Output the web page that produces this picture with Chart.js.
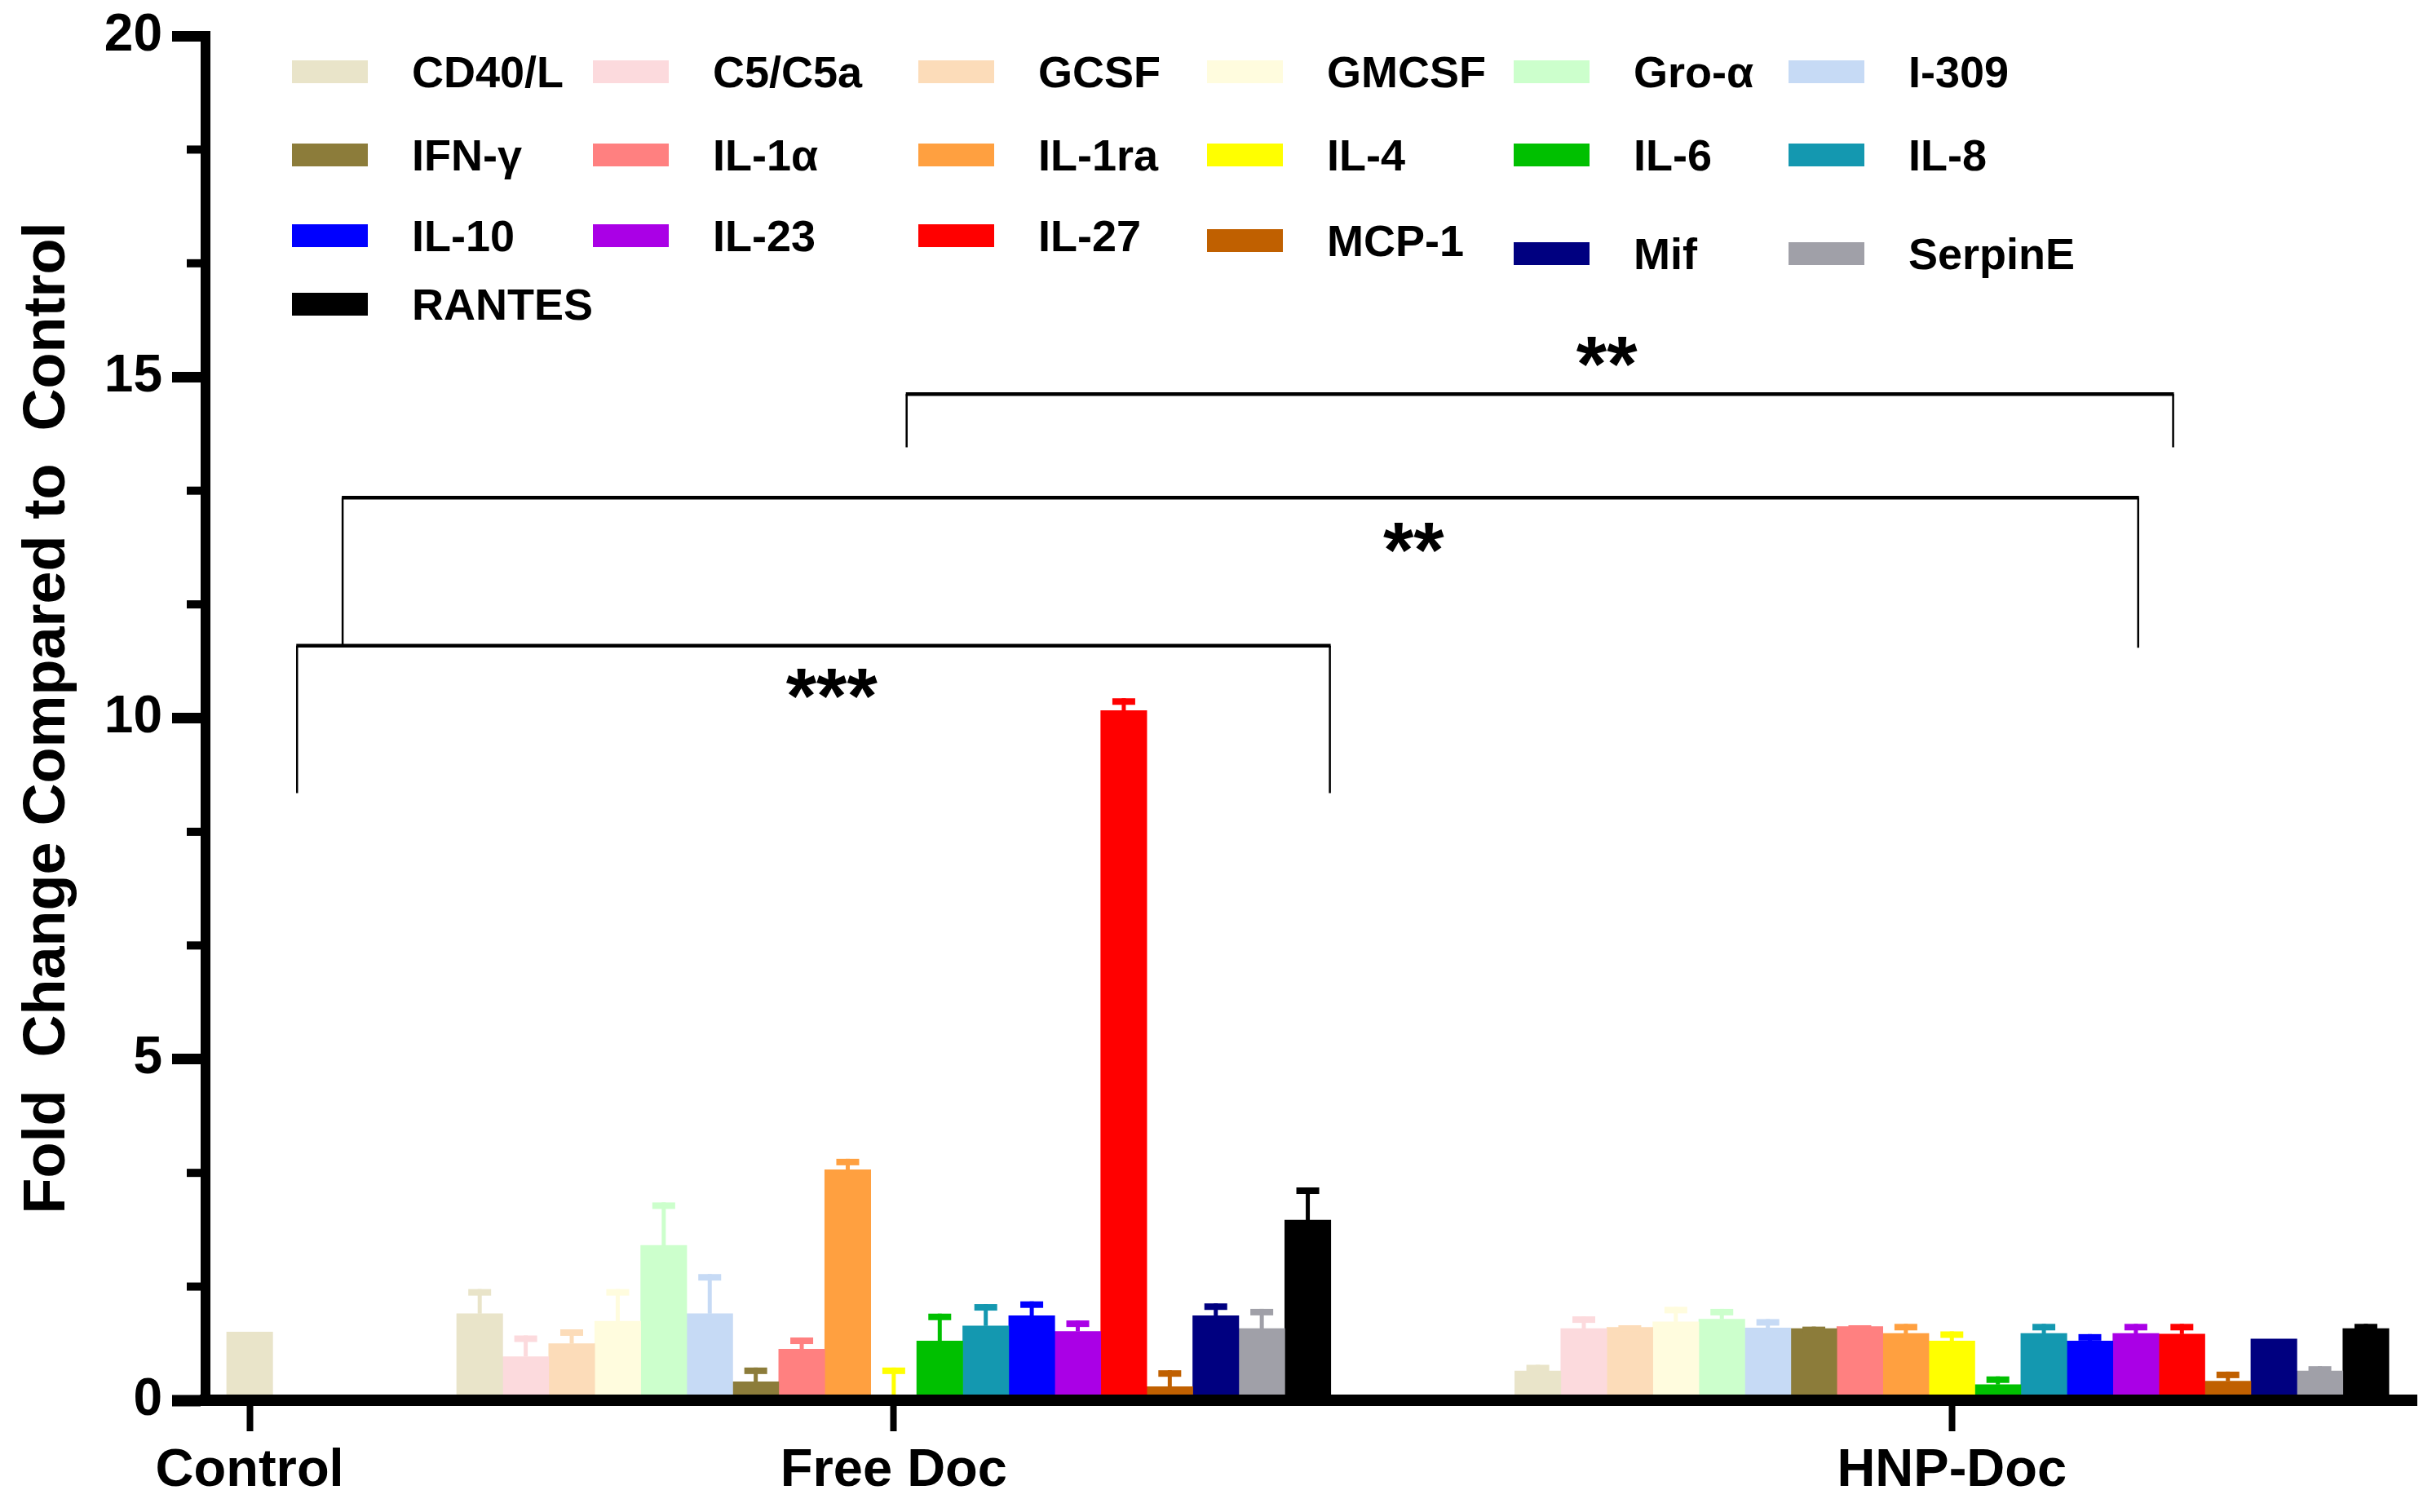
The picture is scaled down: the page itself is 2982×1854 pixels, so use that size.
<!DOCTYPE html>
<html>
<head>
<meta charset="utf-8">
<script src="https://cdn.jsdelivr.net/npm/chart.js@4.4.1/dist/chart.umd.min.js"></script>
<style>
    html, body { margin: 0; padding: 0; background: #fff; }
    #wrap { position: relative; width: 2982px; height: 1854px; }
    #chart { display: block; }
    .item { position: absolute; display: flex; align-items: center; height: 60px;
            font: bold 54px "Liberation Sans", Arial, sans-serif; color: #000; white-space: nowrap; }
    .box { width: 93px; height: 28px; margin-right: 54px; }
</style>
</head>
<body>
<div id="wrap"><canvas id="chart"></canvas><div id="legend"></div></div>
<script>
let groupLabels = ['Control', 'Free Doc', 'HNP-Doc'];
let cytokines = ['CD40/L', 'C5/C5a', 'GCSF', 'GMCSF', 'Gro-α', 'I-309', 'IFN-γ', 'IL-1α', 'IL-1ra', 'IL-4',
    'IL-6', 'IL-8', 'IL-10', 'IL-23', 'IL-27', 'MCP-1', 'Mif', 'SerpinE', 'RANTES'];
let colors = ['#e9e4c9', '#fcdadd', '#fcdcb9', '#fffcde', '#ccffcc', '#c6daf5', '#8c7c3a', '#ff8080', '#ffa040', '#ffff00',
    '#00c000', '#1498b0', '#0000ff', '#aa00e6', '#ff0000', '#c06000', '#000080', '#a0a0a8', '#000000'];

// only CD40/L is plotted for the control group
let controlValue = 1.0;
let freeDocMeans = [1.27, 0.64, 0.83, 1.16, 2.27, 1.27, 0.27, 0.75, 3.38, 0.02,
    0.87, 1.09, 1.24, 1.01, 10.11, 0.20, 1.24, 1.05, 2.64];
let freeDocErrors = [0.36, 0.31, 0.21, 0.47, 0.63, 0.58, 0.21, 0.17, 0.16, 0.46,
    0.40, 0.32, 0.21, 0.16, 0.18, 0.24, 0.18, 0.29, 0.48];
let hnpDocMeans = [0.43, 1.05, 1.07, 1.15, 1.19, 1.06, 1.05, 1.08, 0.98, 0.87,
    0.23, 0.98, 0.87, 0.98, 0.97, 0.28, 0.90, 0.43, 1.05];
let hnpDocErrors = [0.09, 0.18, 0.03, 0.22, 0.15, 0.13, 0.03, 0.02, 0.14, 0.14,
    0.12, 0.14, 0.10, 0.14, 0.15, 0.14, 0, 0.07, 0.07];

let yMax = 20, yMajorStep = 5, yMinorStep = 5 / 3;

// significance brackets, x in bar slots, y in fold change
let brackets = [
    { from: 1.03, to: 23.48, level: 11.06, leftEnd: 8.9, rightEnd: 8.9, stars: '***', starX: 12.65, starY: 10.44 },
    { from: 2.02, to: 41.05, level: 13.23, leftEnd: 11.06, rightEnd: 11.03, stars: '**', starX: 25.3, starY: 12.58 },
    { from: 14.28, to: 41.81, level: 14.75, leftEnd: 13.97, rightEnd: 13.97, stars: '**', starX: 29.5, starY: 15.3 }
];

// bar slots: one slot per bar, a gap of a few slots between groups
let groupGap = 4;
let controlSlot = 0;
let freeStart = controlSlot + 1 + groupGap;
let hnpStart = freeStart + cytokines.length + groupGap;
let groupCenters = [controlSlot, freeStart + (cytokines.length - 1) / 2, hnpStart + (cytokines.length - 1) / 2];

let fontFamily = '"Liberation Sans", Arial, sans-serif';
Chart.defaults.font.family = fontFamily;
Chart.defaults.color = '#000';

let datasets = cytokines.map(function (name, i) {
    let points = [{ x: freeStart + i, y: freeDocMeans[i] }, { x: hnpStart + i, y: hnpDocMeans[i] }];
    let errors = [freeDocErrors[i], hnpDocErrors[i]];
    if (i === 0) {
        points.unshift({ x: controlSlot, y: controlValue });
        errors.unshift(0);
    }
    return {
        label: name,
        data: points,
        errors: errors,
        backgroundColor: colors[i],
        borderWidth: 0,
        grouped: false,
        barPercentage: 1,
        categoryPercentage: 1
    };
});

let extras = {
    id: 'extras',
    afterDatasetsDraw(chart) {
        let ctx = chart.ctx, yScale = chart.scales.y;
        chart.data.datasets.forEach(function (ds, d) {
            chart.getDatasetMeta(d).data.forEach(function (bar, j) {
                let err = ds.errors[j];
                if (!err) return;
                let top = yScale.getPixelForValue(ds.data[j].y + err);
                ctx.save();
                ctx.strokeStyle = ds.backgroundColor;
                ctx.fillStyle = ds.backgroundColor;
                ctx.lineWidth = 5;
                ctx.beginPath();
                ctx.moveTo(bar.x, bar.y);
                ctx.lineTo(bar.x, top);
                ctx.stroke();
                ctx.fillRect(bar.x - 14, top, 28, 8);
                ctx.restore();
            });
        });
    },
    afterDraw(chart) {
        let ctx = chart.ctx, xScale = chart.scales.x, yScale = chart.scales.y;
        ctx.save();
        ctx.strokeStyle = '#000';
        ctx.fillStyle = '#000';

        // minor ticks on the y axis
        ctx.lineWidth = 10;
        for (let k = 1; k * yMinorStep < yMax; k++) {
            if (k % 3 === 0) continue;
            let py = yScale.getPixelForValue(k * yMinorStep);
            ctx.beginPath();
            ctx.moveTo(yScale.right - 23, py);
            ctx.lineTo(yScale.right, py);
            ctx.stroke();
        }

        brackets.forEach(function (b) {
            let x1 = xScale.getPixelForValue(b.from), x2 = xScale.getPixelForValue(b.to);
            let yl = yScale.getPixelForValue(b.level);
            ctx.lineWidth = 2.5;
            ctx.beginPath();
            ctx.moveTo(x1, yScale.getPixelForValue(b.leftEnd));
            ctx.lineTo(x1, yl);
            ctx.moveTo(x2, yl);
            ctx.lineTo(x2, yScale.getPixelForValue(b.rightEnd));
            ctx.stroke();
            ctx.lineWidth = 4.5;
            ctx.beginPath();
            ctx.moveTo(x1 - 1, yl);
            ctx.lineTo(x2 + 1, yl);
            ctx.stroke();

            let fs = 96;
            ctx.font = 'bold ' + fs + 'px ' + fontFamily;
            ctx.textAlign = 'center';
            ctx.textBaseline = 'alphabetic';
            ctx.fillText(b.stars, xScale.getPixelForValue(b.starX), yScale.getPixelForValue(b.starY) + 0.44 * fs);
        });
        ctx.restore();
    }
};

let chart = new Chart(document.getElementById('chart').getContext('2d'), {
    type: 'bar',
    data: { datasets: datasets },
    plugins: [extras],
    options: {
        responsive: true,
        maintainAspectRatio: false,
        animation: false,
        layout: { padding: { top: 24, right: 19, left: 0, bottom: 0 } },
        plugins: { legend: { display: false }, tooltip: { enabled: false } },
        scales: {
            x: {
                type: 'linear',
                min: -0.96,
                max: 47.1,
                offset: false,
                afterBuildTicks: function (scale) {
                    scale.ticks = groupCenters.map(function (v) { return { value: v }; });
                },
                afterFit: function (scale) { scale.height = 137; },
                ticks: {
                    autoSkip: false,
                    maxRotation: 0,
                    padding: 10,
                    font: { size: 65, weight: 'bold' },
                    callback: function (value, index) { return groupLabels[index]; }
                },
                grid: { offset: false, drawOnChartArea: false, tickLength: 38, tickWidth: 8, tickColor: '#000', z: 1 },
                border: { color: '#000', width: 14, z: 1 }
            },
            y: {
                min: 0,
                max: yMax,
                afterFit: function (scale) { scale.width = 252; },
                ticks: {
                    stepSize: yMajorStep,
                    padding: 12,
                    font: { size: 64, weight: 'bold', lineHeight: 1 }
                },
                grid: {
                    drawOnChartArea: false,
                    tickLength: 41,
                    tickColor: '#000',
                    tickWidth: function (c) { return c.tick && c.tick.value === 0 ? 14 : 13; },
                    z: 1
                },
                border: { color: '#000', width: 12, z: 1 },
                title: {
                    display: true,
                    text: 'Fold  Change Compared to  Control',
                    font: { size: 72, weight: 'bold' },
                    padding: { top: 16, bottom: 0 }
                }
            }
        }
    }
});

// legend laid out in the plot area, six entries per row
let legendColumns = [358, 727, 1126, 1480, 1856, 2193];
let legendRows = [88, 190, 289, 373];
let legendNudge = { 'MCP-1': 6, 'Mif': 22, 'SerpinE': 22 };
let legendDiv = document.getElementById('legend');
chart.data.datasets.forEach(function (ds, i) {
    let item = document.createElement('div');
    item.className = 'item';
    item.style.left = legendColumns[i % 6] + 'px';
    item.style.top = (legendRows[Math.floor(i / 6)] + (legendNudge[ds.label] || 0) - 30) + 'px';
    let box = document.createElement('span');
    box.className = 'box';
    box.style.background = ds.backgroundColor;
    item.appendChild(box);
    item.appendChild(document.createTextNode(ds.label));
    legendDiv.appendChild(item);
});
</script>
</body>
</html>
